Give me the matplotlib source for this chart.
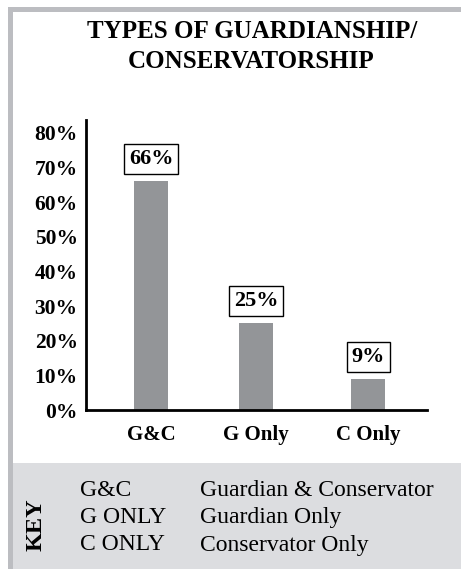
import matplotlib.pyplot as plt
from matplotlib.patches import Rectangle

categories = ["G&C", "G Only", "C Only"]
positions = [0.0, 1.0, 2.07]
values = [66, 25, 9]
value_labels = ["66%", "25%", "9%"]
y_ticks = [0, 10, 20, 30, 40, 50, 60, 70, 80]
key_codes = ["G&C", "G ONLY", "C ONLY"]
key_names = ["Guardian & Conservator", "Guardian Only", "Conservator Only"]

W, H = 461, 569
SERIF = "Liberation Serif"
BAR_GREY = "#939598"
BORDER_GREY = "#bcbdc1"
KEY_GREY = "#dcdde0"


def px(x, y):
    """pixel coords (top-left origin) -> figure fraction"""
    return x / W, 1 - y / H


fig = plt.figure(figsize=(W / 100, H / 100), dpi=100)
fig.patch.set_facecolor("white")

# frame pieces
fig.patches.append(Rectangle((8 / W, 0), 5 / W, 1 - 7 / H, transform=fig.transFigure,
                             color=BORDER_GREY, lw=0, zorder=0))
fig.patches.append(Rectangle((8 / W, 1 - 12 / H), 1, 5 / H, transform=fig.transFigure,
                             color=BORDER_GREY, lw=0, zorder=0))
fig.patches.append(Rectangle((13 / W, 0), 1, (H - 463) / H, transform=fig.transFigure,
                             color=KEY_GREY, lw=0, zorder=0))

# title
tx, ty = px(252, 32)
fig.text(tx, ty, "TYPES OF GUARDIANSHIP/", ha="center", va="center",
         family=SERIF, weight="bold", fontsize=18)
tx, ty = px(251, 62)
fig.text(tx, ty, "CONSERVATORSHIP", ha="center", va="center",
         family=SERIF, weight="bold", fontsize=18)

# chart
ax = fig.add_axes([86 / W, (H - 410) / H, 341 / W, 290 / H])
ax.patch.set_alpha(0)
ax.bar(positions, values, width=0.32, color=BAR_GREY, zorder=2)
for x, v, lab in zip(positions, values, value_labels):
    ax.annotate(lab, (x, v), xytext=(0, 16), textcoords="offset points",
                ha="center", va="center", family=SERIF, weight="bold", fontsize=16,
                bbox=dict(boxstyle="square,pad=0.22", fc="white", ec="black", lw=1.0))

ax.set_xlim(-0.62, 2.63)
ax.set_ylim(0, 83.75)
ax.set_yticks(y_ticks)
ax.set_yticklabels([f"{t}%" for t in y_ticks], family=SERIF, weight="bold", fontsize=15.5)
ax.set_xticks(positions)
ax.set_xticklabels(categories, family=SERIF, weight="bold", fontsize=15)
ax.tick_params(axis="y", length=0, pad=6)
ax.tick_params(axis="x", length=0, pad=11)
for side in ("top", "right"):
    ax.spines[side].set_visible(False)
for side in ("left", "bottom"):
    ax.spines[side].set_linewidth(2.0)

# key
kx, ky = px(36, 525)
fig.text(kx, ky, "KEY", rotation=90, ha="center", va="center",
         family=SERIF, weight="bold", fontsize=17.5)
for i, (code, name) in enumerate(zip(key_codes, key_names)):
    yy = 490 + i * 27.5
    fig.text(80 / W, 1 - yy / H, code, ha="left", va="center", family=SERIF, fontsize=17)
    fig.text(200 / W, 1 - yy / H, name, ha="left", va="center", family=SERIF, fontsize=17)

fig.savefig("out.png", dpi=100)
